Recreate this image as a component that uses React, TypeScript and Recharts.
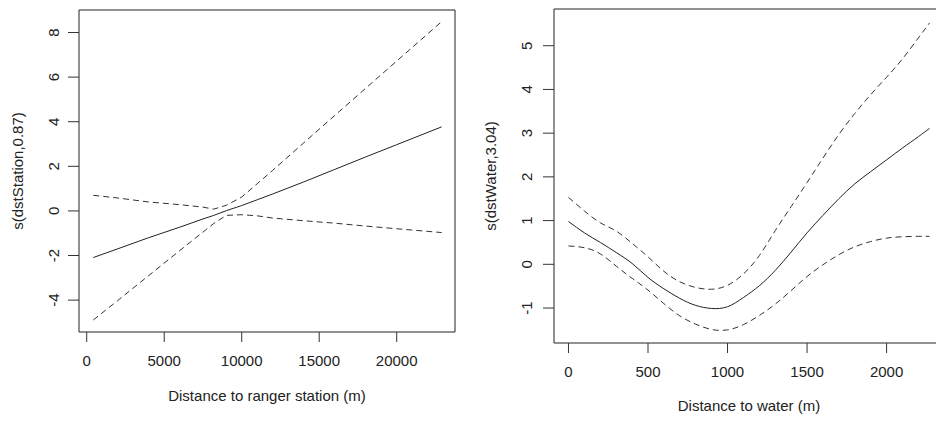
import { LineChart, Line, XAxis, YAxis, ReferenceArea } from "recharts";

// Left panel: distance to ranger station (m)
const STATION_X = [426, 2000, 4000, 6000, 7500, 8200, 9000, 10000, 11000, 12000, 14000, 16000, 18000, 20000, 22900];
const STATION_FIT = [-2.09, -1.7, -1.2, -0.73, -0.36, -0.2, 0.01, 0.24, 0.5, 0.76, 1.3, 1.86, 2.42, 2.97, 3.77];
const STATION_UPPER = [0.7, 0.58, 0.4, 0.28, 0.17, 0.08, 0.25, 0.62, 1.22, 1.82, 3.05, 4.28, 5.5, 6.72, 8.49];
const STATION_LOWER = [-4.89, -4.02, -2.9, -1.78, -0.95, -0.56, -0.2, -0.17, -0.22, -0.32, -0.44, -0.55, -0.68, -0.8, -0.97];
const STATION_X_TICKS = [0, 5000, 10000, 15000, 20000];
const STATION_Y_TICKS = [-4, -2, 0, 2, 4, 6, 8];

// Right panel: distance to water (m)
const WATER_X = [0, 100, 200, 300, 400, 500, 600, 700, 800, 900, 1000, 1100, 1200, 1300, 1400, 1500, 1600, 1700, 1800, 1900, 2000, 2100, 2200, 2270];
const WATER_FIT = [0.98, 0.72, 0.5, 0.27, 0.02, -0.3, -0.56, -0.78, -0.94, -1.01, -0.97, -0.76, -0.49, -0.14, 0.28, 0.72, 1.12, 1.5, 1.84, 2.12, 2.39, 2.66, 2.92, 3.11];
const WATER_UPPER = [1.53, 1.22, 0.95, 0.76, 0.48, 0.17, -0.16, -0.4, -0.53, -0.57, -0.48, -0.22, 0.2, 0.77, 1.32, 1.87, 2.43, 2.97, 3.45, 3.88, 4.28, 4.7, 5.18, 5.52];
const WATER_LOWER = [0.42, 0.38, 0.24, -0.04, -0.32, -0.59, -0.9, -1.18, -1.37, -1.49, -1.5, -1.38, -1.17, -0.91, -0.6, -0.28, -0.01, 0.22, 0.4, 0.52, 0.6, 0.63, 0.64, 0.64];
const WATER_X_TICKS = [0, 500, 1000, 1500, 2000];
const WATER_Y_TICKS = [-1, 0, 1, 2, 3, 4, 5];

const FONT = "'Liberation Sans', Arial, sans-serif";
const INK = "#222";

const stationRows = STATION_X.map((x, i) => ({
  x,
  fit: STATION_FIT[i],
  upper: STATION_UPPER[i],
  lower: STATION_LOWER[i],
}));

const waterRows = WATER_X.map((x, i) => ({
  x,
  fit: WATER_FIT[i],
  upper: WATER_UPPER[i],
  lower: WATER_LOWER[i],
}));

interface PanelProps {
  rows: { x: number; fit: number; upper: number; lower: number }[];
  width: number;
  top: number;
  right: number;
  yAxisWidth: number;
  xAxisHeight: number;
  xDomain: [number, number];
  yDomain: [number, number];
  xTicks: number[];
  yTicks: number[];
  xLabelBase: number; // baseline of x tick labels
  xTitleBase: number;
  yLabelBase: number; // baseline (rotated) of y tick labels
  yTitleBase: number;
  xTitle: string;
  yTitle: string;
  curve: "linear" | "natural";
}

function GamPanel(p: PanelProps) {
  return (
    <LineChart
      width={p.width}
      height={423}
      data={p.rows}
      margin={{ top: p.top, right: p.right, bottom: 0, left: 0 }}
    >
      <XAxis
        type="number"
        dataKey="x"
        domain={p.xDomain}
        ticks={p.xTicks}
        interval={0}
        allowDataOverflow
        height={p.xAxisHeight}
        tickSize={10}
        axisLine={false}
        tickLine={{ stroke: "#333" }}
        tick={(t: any) => (
          <text x={t.x} y={p.xLabelBase} textAnchor="middle" fontSize={15} fontFamily={FONT} fill={INK}>
            {String(t.payload.value)}
          </text>
        )}
        label={(l: any) => (
          <text
            x={l.viewBox.x + l.viewBox.width / 2}
            y={p.xTitleBase}
            textAnchor="middle"
            fontSize={15}
            fontFamily={FONT}
            fill={INK}
          >
            {p.xTitle}
          </text>
        )}
      />
      <YAxis
        type="number"
        domain={p.yDomain}
        ticks={p.yTicks}
        interval={0}
        allowDataOverflow
        width={p.yAxisWidth}
        tickSize={11}
        axisLine={false}
        tickLine={{ stroke: "#333" }}
        tick={(t: any) => (
          <text
            x={p.yLabelBase}
            y={t.y}
            transform={`rotate(-90 ${p.yLabelBase} ${t.y})`}
            textAnchor="middle"
            fontSize={15}
            fontFamily={FONT}
            fill={INK}
          >
            {String(t.payload.value)}
          </text>
        )}
        label={(l: any) => {
          const cy = l.viewBox.y + l.viewBox.height / 2;
          return (
            <text
              x={p.yTitleBase}
              y={cy}
              transform={`rotate(-90 ${p.yTitleBase} ${cy})`}
              textAnchor="middle"
              fontSize={15}
              fontFamily={FONT}
              fill={INK}
            >
              {p.yTitle}
            </text>
          );
        }}
      />
      <ReferenceArea
        x1={p.xDomain[0]}
        x2={p.xDomain[1]}
        y1={p.yDomain[0]}
        y2={p.yDomain[1]}
        fill="none"
        stroke="#222"
        strokeWidth={1}
        ifOverflow="visible"
      />
      <Line type={p.curve} dataKey="upper" stroke="#333" strokeWidth={1} strokeDasharray="6 4" dot={false} isAnimationActive={false} />
      <Line type={p.curve} dataKey="lower" stroke="#333" strokeWidth={1} strokeDasharray="6 4" dot={false} isAnimationActive={false} />
      <Line type={p.curve} dataKey="fit" stroke="#222" strokeWidth={1} dot={false} isAnimationActive={false} />
    </LineChart>
  );
}

export default function App() {
  return (
    <div
      style={{
        position: "absolute",
        left: 0,
        top: 0,
        width: 936,
        height: 423,
        overflow: "hidden",
        background: "#fff",
      }}
    >
      <div style={{ position: "absolute", left: 0, top: 0 }}>
        <GamPanel
          rows={stationRows}
          width={470}
          top={10}
          right={15}
          yAxisWidth={79}
          xAxisHeight={91}
          xDomain={[-497, 23761]}
          yDomain={[-5.43, 9.01]}
          xTicks={STATION_X_TICKS}
          yTicks={STATION_Y_TICKS}
          xLabelBase={366}
          xTitleBase={401}
          yLabelBase={59}
          yTitleBase={23}
          xTitle="Distance to ranger station (m)"
          yTitle="s(dstStation,0.87)"
          curve="linear"
        />
      </div>
      <div style={{ position: "absolute", left: 470, top: 0 }}>
        <GamPanel
          rows={waterRows}
          width={490}
          top={9}
          right={16}
          yAxisWidth={84}
          xAxisHeight={80}
          xDomain={[-91, 2361]}
          yDomain={[-1.8, 5.84]}
          xTicks={WATER_X_TICKS}
          yTicks={WATER_Y_TICKS}
          xLabelBase={377}
          xTitleBase={411}
          yLabelBase={62}
          yTitleBase={26}
          xTitle="Distance to water (m)"
          yTitle="s(dstWater,3.04)"
          curve="natural"
        />
      </div>
    </div>
  );
}
